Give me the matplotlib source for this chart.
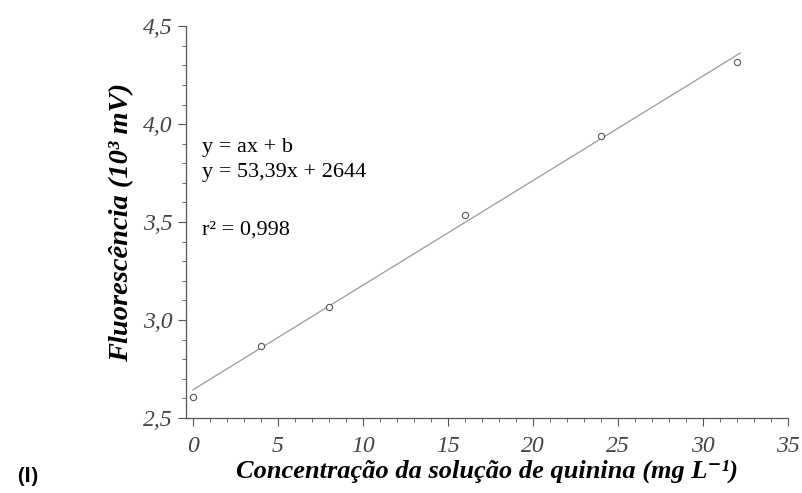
import numpy as np
import matplotlib
matplotlib.use("Agg")
import matplotlib.pyplot as plt
from matplotlib.ticker import MultipleLocator, FuncFormatter

# concentration (mg/L) and fluorescence (10^3 mV)
conc = [0, 4, 8, 16, 24, 32]
fluor = [2.609, 2.869, 3.068, 3.536, 3.940, 4.316]
slope = 53.39   # mV per mg/L
intercept = 2644  # mV

serif = ['Liberation Serif', 'DejaVu Serif']

fig = plt.figure(figsize=(8.02, 4.93), dpi=100)
ax = fig.add_axes([0.232, 0.152, 0.7505, 0.795])

xfit = np.array([0, 32.2])
yfit = (slope * xfit + intercept) / 1000
ax.plot(xfit, yfit, color='#9a9a9a', lw=0.9)
ax.plot(conc, fluor, 'o', mfc='white', mec='#555555', ms=4.5, mew=0.8)

ax.set_xlim(-0.4, 35)
ax.set_ylim(2.5, 4.5)
ax.xaxis.set_major_locator(MultipleLocator(5))
ax.xaxis.set_minor_locator(MultipleLocator(1))
ax.yaxis.set_major_locator(MultipleLocator(0.5))
ax.yaxis.set_minor_locator(MultipleLocator(0.1))
ax.yaxis.set_major_formatter(FuncFormatter(lambda v, p: f'{v:.1f}'.replace('.', ',')))
ax.xaxis.set_major_formatter(FuncFormatter(lambda v, p: f'{v:.0f}'))

for s in ['top', 'right']:
    ax.spines[s].set_visible(False)
for s in ['left', 'bottom']:
    ax.spines[s].set_color('#555555')
    ax.spines[s].set_linewidth(0.9)
ax.tick_params(which='major', length=6, width=0.8, color='#555555', direction='out')
ax.tick_params(which='minor', length=3, width=0.6, color='#555555', direction='out')
ax.tick_params(axis='x', which='major', pad=7)
ax.tick_params(axis='y', which='major', pad=4)

for lab in ax.get_xticklabels() + ax.get_yticklabels():
    lab.set_family(serif)
    lab.set_style('italic')
    lab.set_fontsize(17)
    lab.set_color('#444444')

ax.set_xlabel('Concentração da solução de quinina (mg L⁻¹)', family=serif,
              style='italic', weight='bold', fontsize=19, labelpad=2)
ax.set_ylabel('Fluorescência (10³ mV)', family=serif,
              style='italic', weight='bold', fontsize=20.5, labelpad=6)

ax.text(0.53, 3.883, 'y = ax + b', family=serif, fontsize=16, va='center')
ax.text(0.53, 3.755, 'y = 53,39x + 2644', family=serif, fontsize=16, va='center')
ax.text(0.53, 3.459, 'r² = 0,998', family=serif, fontsize=16, va='center')

fig.text(0.021, 0.022, '(I)', family=['Open Sans', 'DejaVu Sans'], weight='bold', fontsize=15)

fig.savefig('out.png', dpi=100)
